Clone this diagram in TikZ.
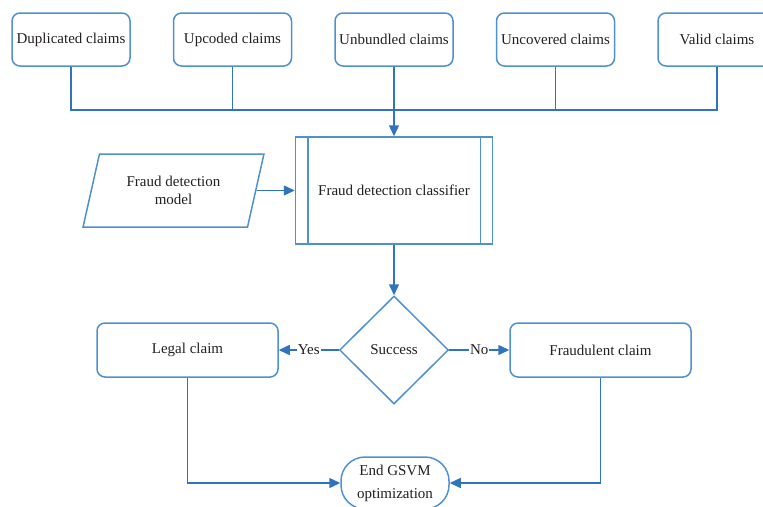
\documentclass[tikz,border=0pt]{standalone}
\usepackage{fontspec}
\setmainfont{Liberation Serif}
\usetikzlibrary{shapes.geometric,arrows.meta}
\definecolor{edgeblue}{RGB}{46,117,189}
\definecolor{frameblue}{RGB}{79,145,206}
\definecolor{ink}{RGB}{35,31,32}
\begin{document}
\begin{tikzpicture}[x=1pt,y=-1pt,
  every node/.style={font=\fontsize{15}{18}\selectfont, text=ink},
  framed/.style={draw=frameblue, line width=1.5pt},
  claimbox/.style={framed, rounded corners=8pt, minimum width=118pt,
    minimum height=53pt, inner sep=0pt},
  wideclaim/.style={claimbox, minimum width=181pt, minimum height=54pt},
  procbox/.style={framed, minimum width=197pt, minimum height=107pt, inner sep=0pt},
  inputbox/.style={framed, trapezium, trapezium left angle=70,
    trapezium right angle=110, trapezium stretches=true,
    minimum width=181pt, minimum height=73pt, inner sep=0pt, align=center},
  decision/.style={framed, diamond, minimum width=109pt, minimum height=108pt,
    inner sep=0pt},
  endbox/.style={framed, rounded corners=24pt, minimum width=108pt,
    minimum height=52pt, inner sep=0pt, align=center,
    font=\fontsize{15}{23}\selectfont},
  link/.style={draw=edgeblue, line width=1.5pt},
  arrow/.style={link, -{Triangle[length=11pt,width=10pt]}},
  branch/.style={fill=white, inner sep=1pt},
]
\useasboundingbox (0,0) rectangle (763,506);
\clip (0,0) rectangle (763,506);

% claim categories
\node[claimbox] (dup) at (71,39.5)    {Duplicated claims};
\node[claimbox] (upc) at (232.5,39.5) {Upcoded claims};
\node[claimbox] (unb) at (394,39.5)   {Unbundled claims};
\node[claimbox] (unc) at (555.5,39.5) {Uncovered claims};
\node[claimbox] (val) at (717,39.5)   {Valid claims};
\coordinate (bus) at (394,110);

% classifier stage
\node[procbox] (cls) at (394,190.5) {Fraud detection classifier};
\draw[framed] ([xshift=13pt]cls.north west) -- ([xshift=13pt]cls.south west);
\draw[framed] ([xshift=-13pt]cls.north east) -- ([xshift=-13pt]cls.south east);
\node[inputbox] (model) at (173.5,190.5) {Fraud detection\\model};

% decision and outcomes
\node[decision] (dec) at (394,350) {Success};
\node[wideclaim] (leg) at (187.5,350) {Legal claim};
\node[wideclaim] (fra) at (600.5,350) {Fraudulent claim};
\node[endbox] (fin) at (395,483) {End GSVM\\optimization};

% collecting bus
\draw[link] (dup.south) -- (dup.south |- bus) -- (val.south |- bus) -- (val.south);
\draw[link] (upc.south) -- (upc.south |- bus);
\draw[link] (unc.south) -- (unc.south |- bus);
\draw[arrow] (unb.south) -- (cls.north);

% flow
\draw[arrow] (model.right side) -- (cls.west);
\draw[arrow] (cls.south) -- (dec.north);
\draw[arrow] (dec.west) -- node[branch] {Yes} (leg.east);
\draw[arrow] (dec.east) -- node[branch] {No} (fra.west);
\draw[arrow] (leg.south) |- (fin.west);
\draw[arrow] (fra.south) |- (fin.east);
\end{tikzpicture}
\end{document}
